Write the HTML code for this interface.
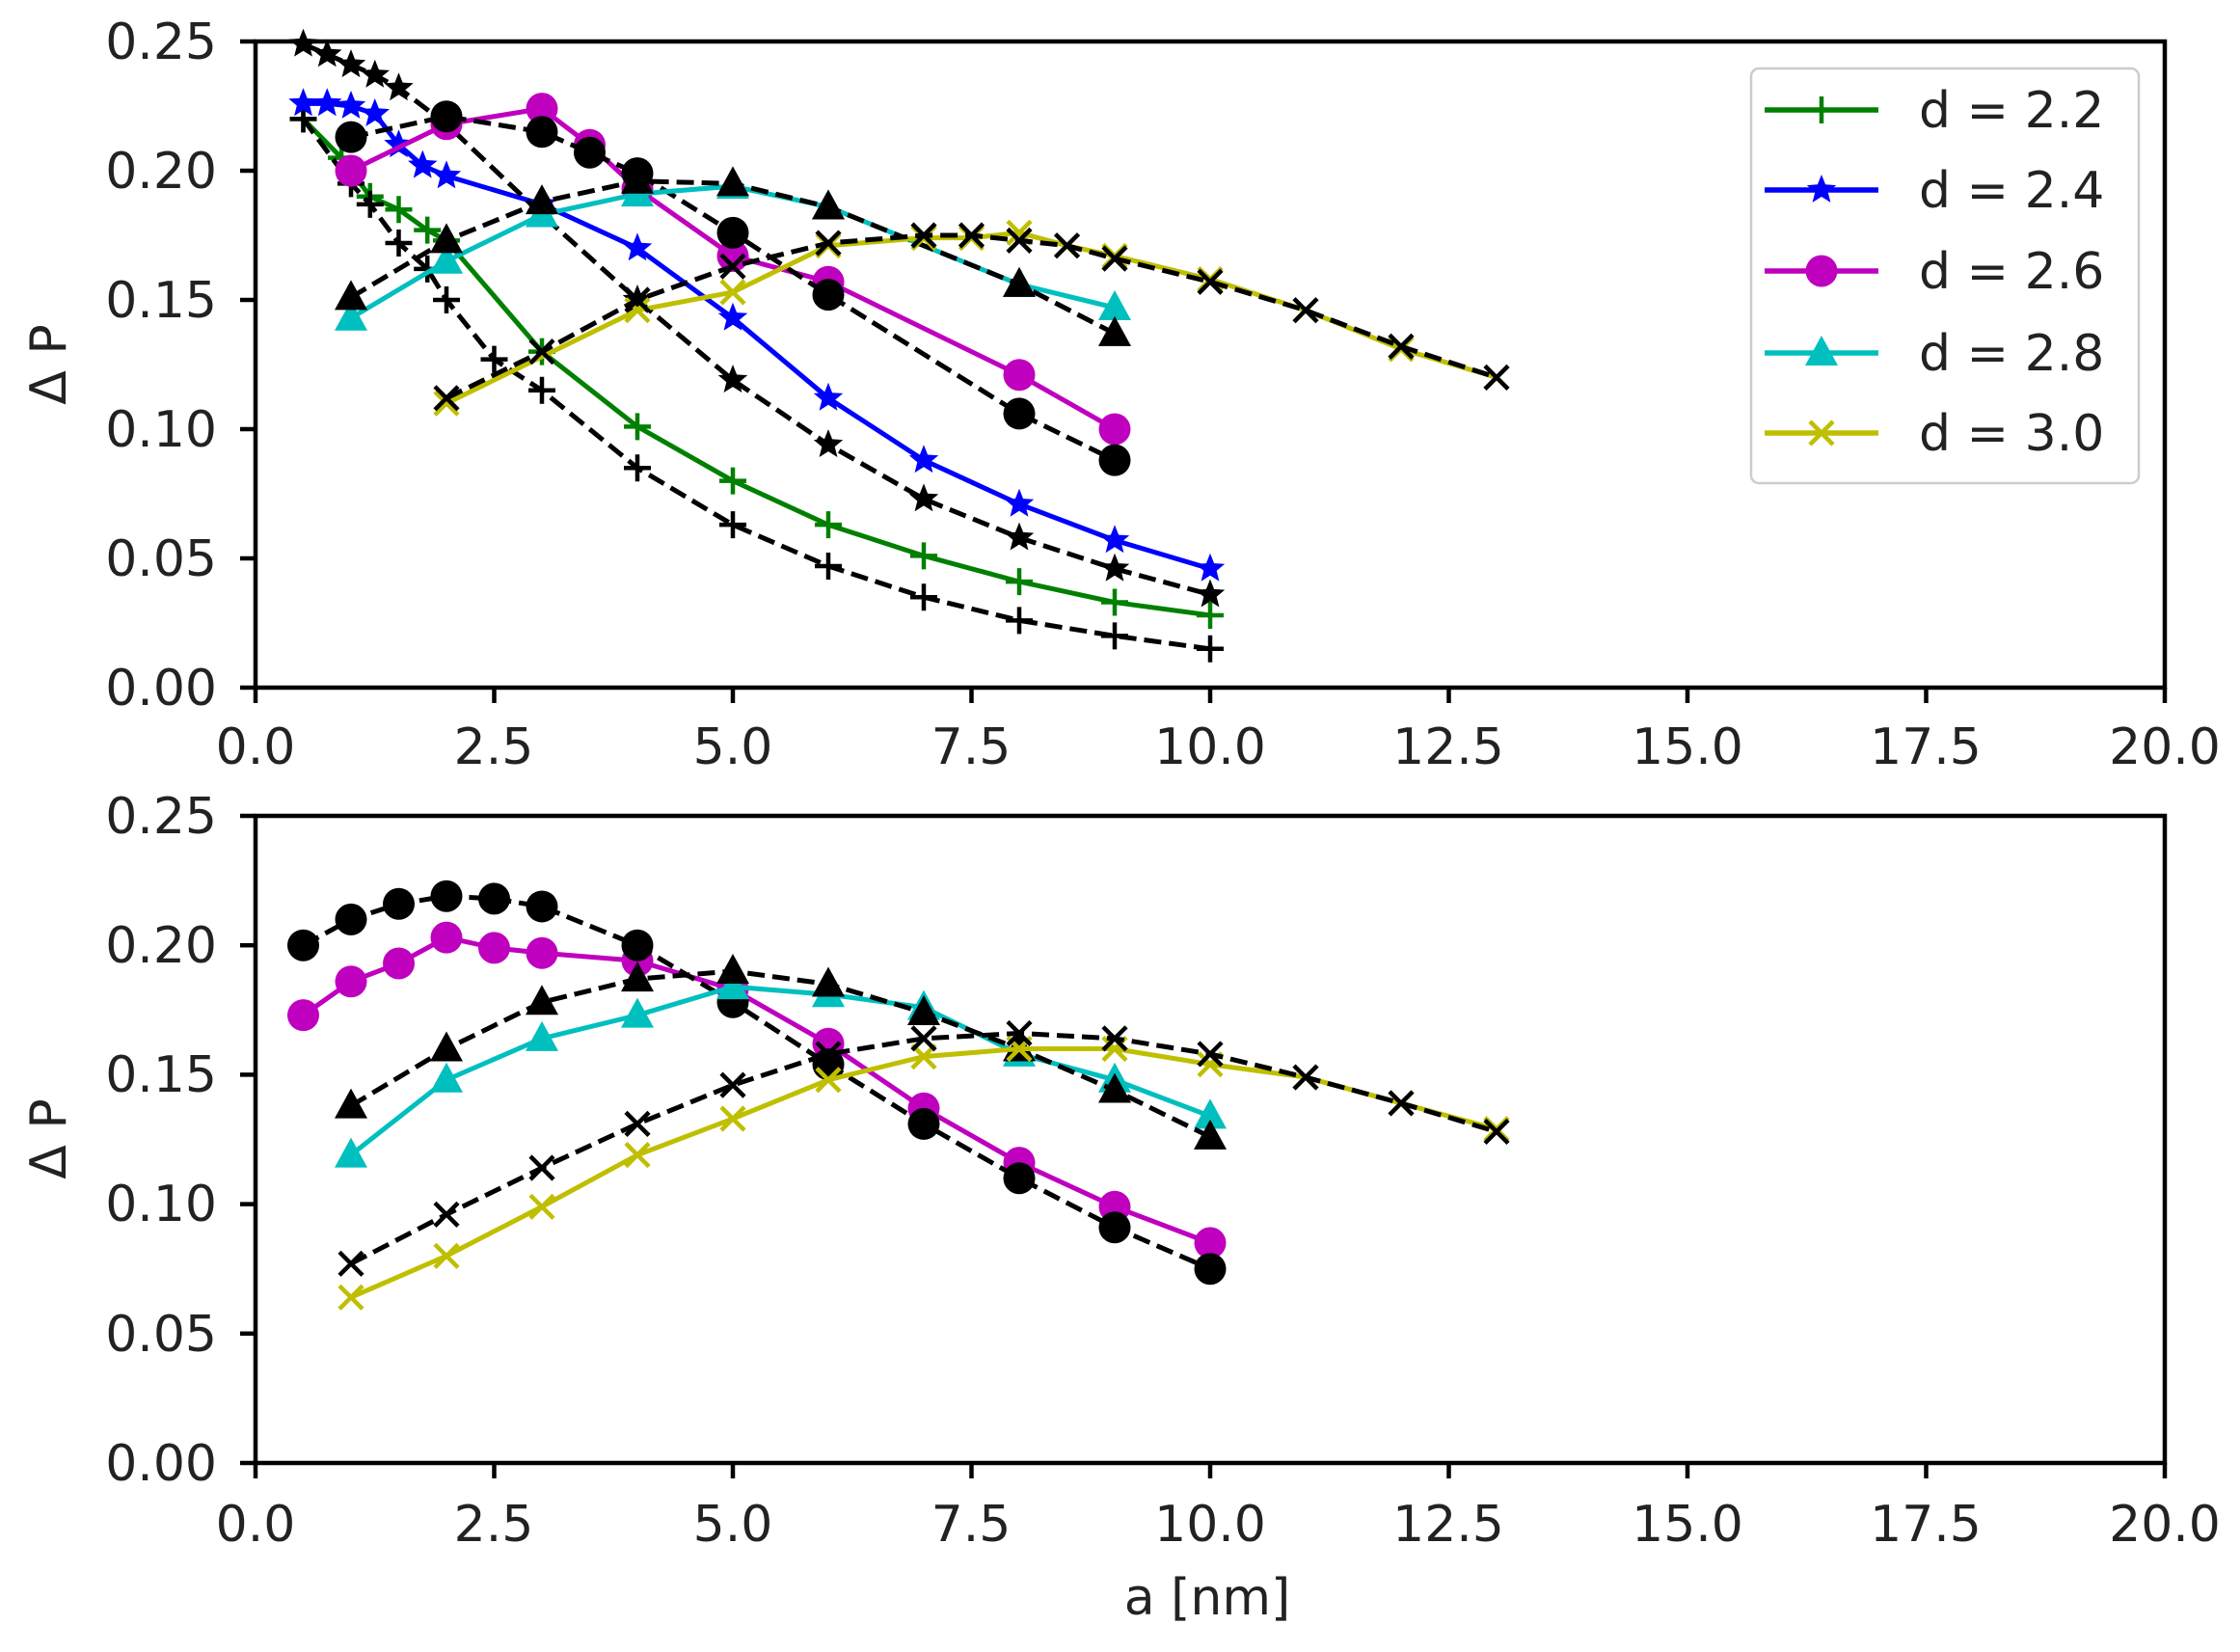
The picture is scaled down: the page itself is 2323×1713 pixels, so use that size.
<!DOCTYPE html>
<html><head><meta charset="utf-8"><style>
html,body{margin:0;padding:0;background:#fff}
svg text{font-family:"DejaVu Sans","Liberation Sans",sans-serif;fill:#222}
</style></head><body>
<svg id="s" width="2323" height="1708" xmlns="http://www.w3.org/2000/svg">
<g id="plots"></g>
<rect x="265" y="43" width="1980" height="670" fill="none" stroke="#000" stroke-width="4.5"/>
<rect x="265" y="846" width="1980" height="671" fill="none" stroke="#000" stroke-width="4.5"/>
<g font-size="52" text-anchor="end">
<text x="225" y="61">0.25</text><text x="225" y="195">0.20</text><text x="225" y="329">0.15</text>
<text x="225" y="463">0.10</text><text x="225" y="597">0.05</text><text x="225" y="731">0.00</text>
<text x="225" y="864">0.25</text><text x="225" y="998">0.20</text><text x="225" y="1132">0.15</text>
<text x="225" y="1266">0.10</text><text x="225" y="1401">0.05</text><text x="225" y="1535">0.00</text>
</g>
<g font-size="52" text-anchor="middle">
<text x="265" y="792">0.0</text><text x="512" y="792">2.5</text><text x="760" y="792">5.0</text><text x="1007" y="792">7.5</text>
<text x="1255" y="792">10.0</text><text x="1502" y="792">12.5</text><text x="1750" y="792">15.0</text><text x="1997" y="792">17.5</text><text x="2245" y="792">20.0</text>
<text x="265" y="1598">0.0</text><text x="512" y="1598">2.5</text><text x="760" y="1598">5.0</text><text x="1007" y="1598">7.5</text>
<text x="1255" y="1598">10.0</text><text x="1502" y="1598">12.5</text><text x="1750" y="1598">15.0</text><text x="1997" y="1598">17.5</text><text x="2245" y="1598">20.0</text>
<text x="1252" y="1674">a [nm]</text>
<text transform="translate(68,378) rotate(-90)">Δ P</text>
<text transform="translate(68,1181) rotate(-90)">Δ P</text>
</g>
<g id="ticks" stroke="#000" stroke-width="4.5"></g>
<rect x="1816" y="71" width="402" height="430" rx="8" fill="#fff" stroke="#ccc" stroke-width="2.5"/>
<g id="leg"></g>
<g font-size="52">
<text x="1990" y="132">d = 2.2</text><text x="1990" y="215">d = 2.4</text><text x="1990" y="299">d = 2.6</text>
<text x="1990" y="384">d = 2.8</text><text x="1990" y="467">d = 3.0</text>
</g>
</svg>
<script>
const NS="http://www.w3.org/2000/svg";
const P=[{top:43,bot:713},{top:846,bot:1517}];
const X=v=>265+v*99;
function el(p,t,a){const e=document.createElementNS(NS,t);for(const k in a)e.setAttribute(k,a[k]);p.appendChild(e);return e;}
const T=document.getElementById('ticks');
for(const p of P){for(let i=0;i<=8;i++){el(T,'line',{x1:X(i*2.5),x2:X(i*2.5),y1:p.bot,y2:p.bot+16});}
for(let i=0;i<=5;i++){const y=p.bot-(p.bot-p.top)*i/5;el(T,'line',{x1:249,x2:265,y1:y,y2:y});}}
function marker(g,type,x,y,c){
 if(type=='+'){el(g,'path',{d:`M${x-14} ${y}H${x+14}M${x} ${y-14}V${y+14}`,stroke:c,'stroke-width':4.5,fill:'none'});}
 else if(type=='x'){const r=12;el(g,'path',{d:`M${x-r} ${y-r}L${x+r} ${y+r}M${x-r} ${y+r}L${x+r} ${y-r}`,stroke:c,'stroke-width':4.5,fill:'none'});}
 else if(type=='o'){el(g,'circle',{cx:x,cy:y,r:16.5,fill:c});}
 else if(type=='^'){el(g,'path',{d:`M${x} ${y-18}L${x+17} ${y+13}L${x-17} ${y+13}Z`,fill:c});}
 else if(type=='*'){let d='';for(let i=0;i<10;i++){const r=i%2?7:16,a=-Math.PI/2+i*Math.PI/5;d+=(i?'L':'M')+(x+r*Math.cos(a)).toFixed(1)+' '+(y+r*Math.sin(a)).toFixed(1);}el(g,'path',{d:d+'Z',fill:c});}
}
function series(pi,data,c,m,dash){
 const g=document.getElementById('plots');const p=P[pi];
 const pts=data.map(([a,b])=>[X(a),p.bot-(p.bot-p.top)*b/0.25]);
 const a={points:pts.map(q=>q.join(',')).join(' '),fill:'none',stroke:c,'stroke-width':5};
 if(dash)a['stroke-dasharray']='18,8';
 el(g,'polyline',a);pts.forEach(q=>marker(g,m,q[0],q[1],c));
}
const G='#008000',B='#0000ff',M='#bf00bf',C='#00bfbf',Y='#bfbf00',K='#000';
series(0,[[0.5,.22],[0.9,.205],[1.2,.19],[1.5,.185],[1.8,.177],[2,.173],[3,.13],[4,.101],[5,.08],[6,.063],[7,.051],[8,.041],[9,.033],[10,.028]],G,'+');
series(0,[[0.5,.22],[1,.195],[1.2,.187],[1.5,.172],[1.8,.162],[2,.15],[2.5,.127],[3,.115],[4,.085],[5,.063],[6,.047],[7,.035],[8,.026],[9,.02],[10,.015]],K,'+',1);
series(0,[[0.5,.226],[0.75,.226],[1,.225],[1.25,.222],[1.5,.21],[1.75,.202],[2,.198],[3,.187],[4,.17],[5,.143],[6,.112],[7,.088],[8,.071],[9,.057],[10,.046]],B,'*');
series(0,[[0.5,.249],[0.75,.245],[1,.241],[1.25,.237],[1.5,.232],[2,.218],[3,.183],[4,.15],[5,.119],[6,.094],[7,.073],[8,.058],[9,.046],[10,.036]],K,'*',1);
series(0,[[1,.2],[2,.218],[3,.224],[3.5,.21],[4,.193],[5,.167],[6,.157],[8,.121],[9,.1]],M,'o');
series(0,[[1,.213],[2,.221],[3,.215],[3.5,.207],[4,.199],[5,.176],[6,.152],[8,.106],[9,.088]],K,'o',1);
series(0,[[1,.143],[2,.165],[3,.183],[4,.191],[5,.194],[6,.186],[8,.156],[9,.147]],C,'^');
series(0,[[1,.151],[2,.173],[3,.188],[4,.196],[5,.195],[6,.186],[8,.156],[9,.137]],K,'^',1);
series(0,[[2,.11],[4,.146],[5,.153],[6,.171],[7,.174],[7.5,.174],[8,.176],[8.5,.171],[9,.167],[10,.158],[11,.146],[12,.131],[13,.12]],Y,'x');
series(0,[[2,.112],[3,.13],[4,.15],[5,.163],[6,.172],[7,.175],[7.5,.175],[8,.173],[8.5,.171],[9,.166],[10,.157],[11,.146],[12,.132],[13,.12]],K,'x',1);
series(1,[[0.5,.173],[1,.186],[1.5,.193],[2,.203],[2.5,.199],[3,.197],[4,.194],[5,.183],[6,.162],[7,.137],[8,.116],[9,.099],[10,.085]],M,'o');
series(1,[[0.5,.2],[1,.21],[1.5,.216],[2,.219],[2.5,.218],[3,.215],[4,.2],[5,.178],[6,.154],[7,.131],[8,.11],[9,.091],[10,.075]],K,'o',1);
series(1,[[1,.119],[2,.148],[3,.164],[4,.173],[5,.184],[6,.181],[7,.176],[8,.158],[9,.148],[10,.134]],C,'^');
series(1,[[1,.138],[2,.16],[3,.178],[4,.187],[5,.19],[6,.185],[7,.174],[8,.16],[9,.144],[10,.126]],K,'^',1);
series(1,[[1,.064],[2,.08],[3,.099],[4,.119],[5,.133],[6,.148],[7,.157],[8,.16],[9,.16],[10,.154],[11,.149],[12,.139],[13,.129]],Y,'x');
series(1,[[1,.077],[2,.096],[3,.114],[4,.131],[5,.146],[6,.158],[7,.164],[8,.166],[9,.164],[10,.158],[11,.149],[12,.139],[13,.128]],K,'x',1);
const L=document.getElementById('leg');
[[G,'+',114],[B,'*',197],[M,'o',281],[C,'^',366],[Y,'x',449]].forEach(([c,m,y])=>{
 el(L,'line',{x1:1830,x2:1948,y1:y,y2:y,stroke:c,'stroke-width':5.5});marker(L,m,1889,y,c);});
</script>
</body></html>
